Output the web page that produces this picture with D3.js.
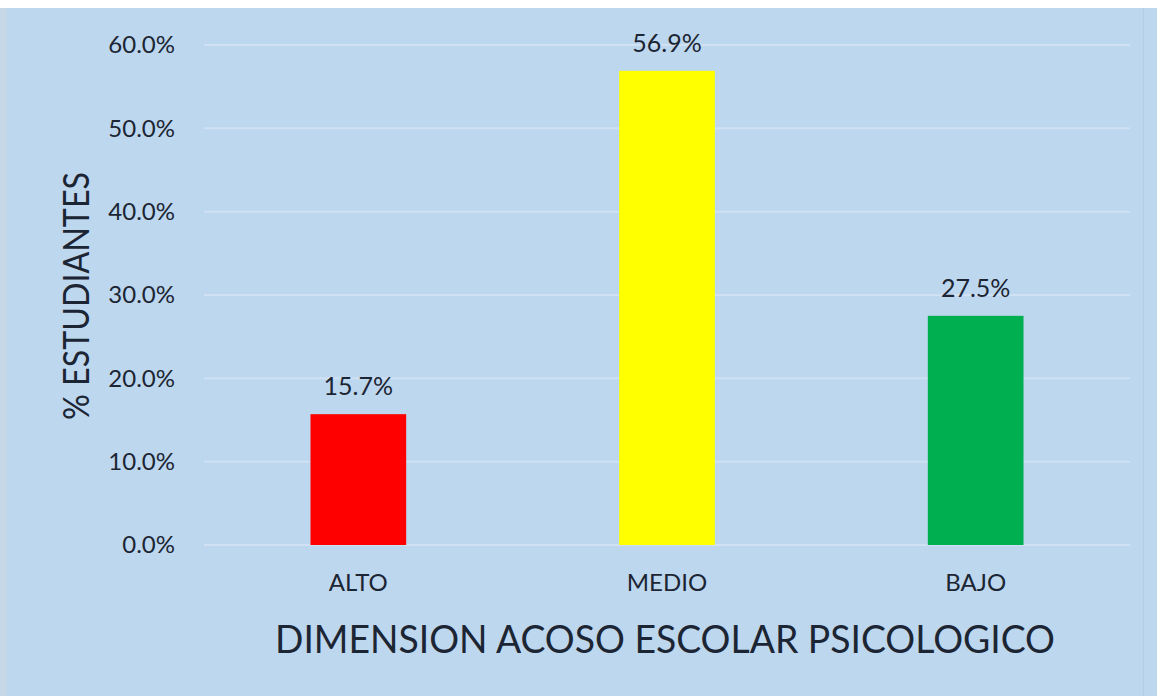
<!DOCTYPE html>
<html>
<head>
<meta charset="utf-8">
<script src="https://cdn.jsdelivr.net/npm/d3@7"></script>
<style>
  html, body { margin: 0; padding: 0; background: #fff; }
  svg { display: block; }
  text { font-family: Lato, "Open Sans", sans-serif; fill: #1c2533; }
</style>
</head>
<body>
<div id="chart"></div>
<script>
// data
const categories = ['ALTO', 'MEDIO', 'BAJO'];
const values = [15.7, 56.9, 27.5];
const barColors = ['#ff0000', '#ffff00', '#00b050'];
const tickValues = [0, 10, 20, 30, 40, 50, 60];
const yTitle = '% ESTUDIANTES';
const xTitle = 'DIMENSION ACOSO ESCOLAR PSICOLOGICO';

const width = 1157;
const height = 696;
const margin = { top: 45, right: 27, bottom: 151, left: 204 };

const svg = d3.select('#chart')
    .append('svg')
    .attr('width', width)
    .attr('height', height);

// background, with the light frame of the original
svg.append('rect')
    .attr('width', width).attr('height', height)
    .attr('fill', '#bdd7ee');
svg.append('rect')
    .attr('x', 0).attr('y', 0).attr('width', 7).attr('height', height)
    .attr('fill', '#c6d8e8');
svg.append('rect')
    .attr('x', 0).attr('y', 0).attr('width', width).attr('height', 8)
    .attr('fill', '#ffffff');
svg.append('rect')
    .attr('x', 1143).attr('y', 8).attr('width', 1).attr('height', height - 8)
    .attr('fill', '#b3cde3');

const x = d3.scaleBand()
    .domain(categories)
    .range([margin.left, width - margin.right])
    .padding(0);

const y = d3.scaleLinear()
    .domain([0, 60])
    .range([height - margin.bottom, margin.top]);

const barWidth = x.bandwidth() * 0.31;

// gridlines
svg.append('g')
    .selectAll('line')
    .data(tickValues)
    .enter()
    .append('line')
    .attr('x1', margin.left)
    .attr('x2', width - margin.right)
    .attr('y1', d => y(d))
    .attr('y2', d => y(d))
    .attr('stroke', '#cfe1f2')
    .attr('stroke-width', 2);

// y axis labels
const yAxis = svg.append('g')
    .attr('transform', 'translate(' + 175 + ',0)')
    .call(d3.axisLeft(y).tickValues(tickValues).tickSize(0).tickPadding(0)
        .tickFormat(d => d3.format('.1f')(d) + '%'));
yAxis.select('.domain').remove();
yAxis.selectAll('text')
    .attr('font-size', 24)
    .attr('font-family', null)
    .attr('fill', '#1c2533');

// bars
svg.append('g')
    .selectAll('rect')
    .data(values)
    .enter()
    .append('rect')
    .attr('x', (d, i) => x(categories[i]) + (x.bandwidth() - barWidth) / 2)
    .attr('y', d => y(d))
    .attr('width', barWidth)
    .attr('height', d => y(0) - y(d))
    .attr('fill', (d, i) => barColors[i]);

// value labels
svg.append('g')
    .selectAll('text')
    .data(values)
    .enter()
    .append('text')
    .attr('x', (d, i) => x(categories[i]) + x.bandwidth() / 2)
    .attr('y', d => y(d) - 19)
    .attr('text-anchor', 'middle')
    .attr('font-size', 25)
    .text(d => d3.format('.1f')(d) + '%');

// category labels
const xAxis = svg.append('g')
    .attr('transform', 'translate(0,' + (height - margin.bottom) + ')')
    .call(d3.axisBottom(x).tickSize(0).tickPadding(29));
xAxis.select('.domain').remove();
xAxis.selectAll('text')
    .attr('font-size', 24)
    .attr('font-family', null)
    .attr('fill', '#1c2533');

// axis titles
svg.append('text')
    .attr('x', 665)
    .attr('y', 653)
    .attr('text-anchor', 'middle')
    .attr('font-size', 38)
    .attr('textLength', 780)
    .attr('lengthAdjust', 'spacingAndGlyphs')
    .text(xTitle);

svg.append('text')
    .attr('transform', 'translate(89,296) rotate(-90)')
    .attr('text-anchor', 'middle')
    .attr('font-size', 36)
    .attr('textLength', 248)
    .attr('lengthAdjust', 'spacingAndGlyphs')
    .text(yTitle);
</script>
</body>
</html>
